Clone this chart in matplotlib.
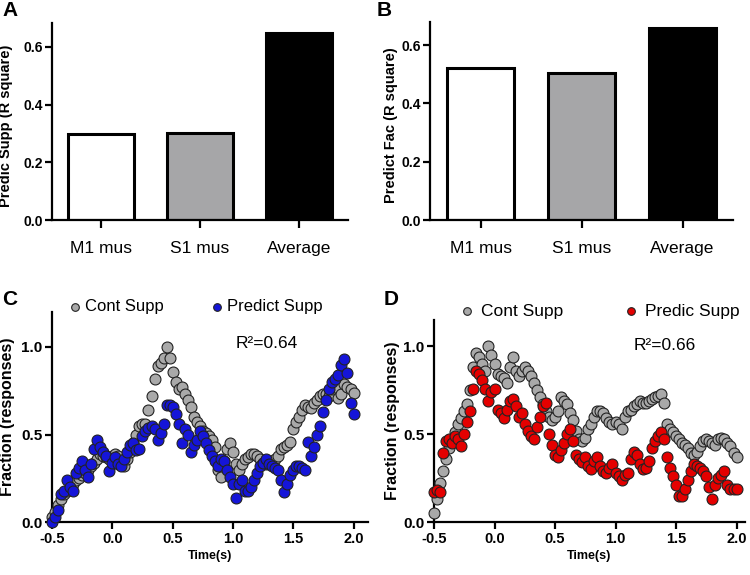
import numpy as np
import matplotlib
matplotlib.use("Agg")
import matplotlib.pyplot as plt

plt.rcParams['font.family'] = ['Liberation Sans', 'DejaVu Sans']

# ---- data ----
categories = ["M1 mus", "S1 mus", "Average"]
supp_r2 = [0.297, 0.302, 0.648]
fac_r2 = [0.521, 0.503, 0.657]
bar_colors = ["white", "#a6a6a8", "black"]

# time samples (s), every 25 ms from -0.5 to 2.0
time_s = np.round(np.arange(101) * 0.025 - 0.5, 3)

cont_supp_c = [
    0.03, 0.06, 0.10, 0.13, 0.16, 0.18, 0.20, 0.22, 0.24, 0.25,
    0.27, 0.28, 0.30, 0.32, 0.34, 0.36, 0.39, 0.38, 0.37, 0.36,
    0.38, 0.39, 0.38, 0.34, 0.32, 0.36, 0.40, 0.45, 0.50, 0.55,
    0.56, 0.56, 0.64, 0.72, 0.82, 0.89, 0.91, 0.94, 1.00, 0.94,
    0.86, 0.80, 0.76, 0.77, 0.73, 0.70, 0.66, 0.60, 0.57, 0.55,
    0.52, 0.51, 0.49, 0.47, 0.43, 0.30, 0.26, 0.35, 0.42, 0.45,
    0.40, 0.33, 0.30, 0.33, 0.36, 0.37, 0.39, 0.39, 0.38, 0.36,
    0.34, 0.33, 0.34, 0.35, 0.36, 0.38, 0.42, 0.43, 0.44, 0.46,
    0.53, 0.57, 0.60, 0.64, 0.67, 0.66, 0.65, 0.68, 0.70, 0.72,
    0.73, 0.73, 0.72, 0.76, 0.77, 0.71, 0.73, 0.79, 0.77, 0.76,
    0.74,
]
pred_supp_c = [
    0.00, 0.03, 0.07, 0.16, 0.18, 0.24, 0.20, 0.18, 0.28, 0.31,
    0.35, 0.30, 0.26, 0.33, 0.42, 0.47, 0.43, 0.40, 0.38, 0.29,
    0.34, 0.37, 0.33, 0.32, 0.36, 0.40, 0.44, 0.45, 0.41, 0.42,
    0.49, 0.52, 0.54, 0.55, 0.53, 0.47, 0.51, 0.56, 0.67, 0.67,
    0.66, 0.62, 0.56, 0.45, 0.53, 0.50, 0.40, 0.44, 0.47, 0.52,
    0.49, 0.45, 0.41, 0.38, 0.35, 0.32, 0.36, 0.35, 0.30, 0.26,
    0.22, 0.14, 0.22, 0.24, 0.18, 0.18, 0.20, 0.24, 0.28, 0.32,
    0.34, 0.36, 0.33, 0.32, 0.31, 0.30, 0.24, 0.17, 0.22, 0.27,
    0.30, 0.32, 0.32, 0.31, 0.30, 0.46, 0.38, 0.43, 0.50, 0.55,
    0.63, 0.70, 0.76, 0.80, 0.82, 0.84, 0.90, 0.93, 0.85, 0.68,
    0.62,
]
cont_supp_d = [
    0.05, 0.13, 0.22, 0.29, 0.36, 0.42, 0.46, 0.51, 0.56, 0.59,
    0.63, 0.67, 0.75, 0.88, 0.96, 0.94, 0.90, 0.86, 1.00, 0.95,
    0.90, 0.84, 0.83, 0.82, 0.79, 0.88, 0.94, 0.86, 0.83, 0.86,
    0.88, 0.86, 0.83, 0.79, 0.75, 0.71, 0.67, 0.63, 0.60, 0.58,
    0.60, 0.63, 0.71, 0.69, 0.67, 0.62, 0.58, 0.52, 0.47, 0.46,
    0.48, 0.53, 0.56, 0.60, 0.63, 0.63, 0.62, 0.59, 0.57, 0.56,
    0.57, 0.56, 0.53, 0.60, 0.63, 0.64, 0.66, 0.67, 0.69, 0.68,
    0.68, 0.69, 0.70, 0.71, 0.72, 0.73, 0.68, 0.56, 0.53, 0.51,
    0.49, 0.47, 0.45, 0.44, 0.42, 0.39, 0.38, 0.40, 0.43, 0.46,
    0.47, 0.46, 0.45, 0.44, 0.47, 0.48, 0.47, 0.45, 0.43, 0.39,
    0.37,
]
pred_supp_d = [
    0.17, 0.18, 0.17, 0.39, 0.46, 0.47, 0.45, 0.49, 0.47, 0.43,
    0.50, 0.57, 0.63, 0.76, 0.86, 0.84, 0.81, 0.76, 0.69, 0.74,
    0.76, 0.64, 0.62, 0.59, 0.64, 0.69, 0.70, 0.66, 0.60, 0.62,
    0.56, 0.52, 0.49, 0.47, 0.54, 0.60, 0.66, 0.68, 0.50, 0.44,
    0.38, 0.37, 0.41, 0.45, 0.50, 0.53, 0.46, 0.38, 0.36, 0.34,
    0.37, 0.32, 0.30, 0.35, 0.37, 0.32, 0.29, 0.28, 0.31, 0.33,
    0.28, 0.26, 0.24, 0.27, 0.28, 0.36, 0.40, 0.38, 0.33, 0.30,
    0.31, 0.35, 0.42, 0.46, 0.49, 0.51, 0.47, 0.37, 0.31, 0.26,
    0.21, 0.15, 0.15, 0.19, 0.24, 0.29, 0.33, 0.32, 0.31, 0.29,
    0.26, 0.20, 0.13, 0.21, 0.25, 0.27, 0.29, 0.21, 0.19, 0.19,
    0.19,
]

W, H = 750, 575
fig = plt.figure(figsize=(7.5, 5.75), dpi=100)


def px(l, r, t, b):
    return [l / W, 1 - b / H, (r - l) / W, (b - t) / H]


axA = fig.add_axes(px(52, 348, 23, 220))
axB = fig.add_axes(px(430, 733, 22, 220))
axC = fig.add_axes(px(52, 368, 312, 522))
axD = fig.add_axes(px(434, 745, 320, 522))

for ax in (axA, axB, axC, axD):
    ax.spines['top'].set_visible(False)
    ax.spines['right'].set_visible(False)
    ax.spines['left'].set_linewidth(1.6)
    ax.spines['bottom'].set_linewidth(1.6)

# bar panels
for ax, vals, ylab, ylim, lx in ((axA, supp_r2, "Predic Supp (R square)", 0.683, -0.132),
                                 (axB, fac_r2, "Predict Fac (R square)", 0.679, -0.106)):
    ax.bar(range(3), vals, width=0.67, color=bar_colors, edgecolor="black", linewidth=2.2)
    ax.set_xlim(-0.5, 2.5)
    ax.set_ylim(0, ylim)
    ax.set_yticks([0.0, 0.2, 0.4, 0.6])
    ax.set_yticklabels(["0.0", "0.2", "0.4", "0.6"], fontweight="bold", fontsize=10)
    ax.set_xticks(range(3))
    ax.set_xticklabels(categories, fontsize=12.5)
    ax.tick_params(axis="x", length=6, width=1.6, pad=9)
    ax.tick_params(axis="y", length=5, width=1.6, pad=1.5)
    ax.set_ylabel(ylab, fontweight="bold", fontsize=10.5)
    ax.yaxis.set_label_coords(lx, 0.48)

# scatter panels
grey = "#a9a9a9"
for ax, pred, pcol, plab, ylim, lx in (
        (axC, pred_supp_c, "#1515d8", "Predict Supp", 1.2, -0.117),
        (axD, pred_supp_d, "#e40000", "Predic Supp", 1.15, -0.109)):
    cont = cont_supp_c if ax is axC else cont_supp_d
    ax.scatter(time_s, cont, s=62, c=grey, edgecolors="#222222", linewidths=0.8,
               clip_on=False, zorder=3, label="Cont Supp")
    ax.scatter(time_s, pred, s=62, c=pcol, edgecolors="#222222", linewidths=0.8,
               clip_on=False, zorder=4, label=plab)
    ax.set_ylim(0, ylim)
    ax.set_yticks([0.0, 0.5, 1.0])
    ax.set_yticklabels(["0.0", "0.5", "1.0"], fontweight="bold", fontsize=11)
    ax.set_xticks([-0.5, 0.0, 0.5, 1.0, 1.5, 2.0])
    ax.set_xticklabels(["-0.5", "0.0", "0.5", "1.0", "1.5", "2.0"], fontweight="bold", fontsize=10.5)
    ax.tick_params(axis="both", length=5, width=1.6, pad=2)
    ax.set_xlabel("Time(s)", fontweight="bold", fontsize=9, labelpad=3)
    ax.set_ylabel("Fraction (responses)", fontweight="bold", fontsize=11.5)
    ax.yaxis.set_label_coords(lx, 0.5)

axC.set_xlim(-0.5, 2.12)
axD.set_xlim(-0.5, 2.07)

axC.legend(loc="center left", bbox_to_anchor=(70 / W, 1 - 307 / H), bbox_transform=fig.transFigure,
           ncol=2, frameon=False, fontsize=12, handlelength=0.6, handletextpad=0.3,
           columnspacing=2.9, markerscale=0.7, borderpad=0, borderaxespad=0, scatterpoints=1)
axD.legend(loc="center left", bbox_to_anchor=(462 / W, 1 - 311 / H), bbox_transform=fig.transFigure,
           ncol=2, frameon=False, fontsize=12.5, handlelength=0.6, handletextpad=0.5,
           columnspacing=3.6, markerscale=0.7, borderpad=0, borderaxespad=0, scatterpoints=1)

fig.text(267 / W, 1 - 343 / H, "R²=0.64", ha="center", va="center", fontsize=12.5)
fig.text(665 / W, 1 - 345 / H, "R²=0.66", ha="center", va="center", fontsize=12.5)

for lab, x, y in (("A", 2, 1), ("B", 377, 1), ("C", 2, 290), ("D", 384, 290)):
    fig.text(x / W, 1 - y / H, lab, ha="left", va="top", fontsize=15, fontweight="bold")

fig.savefig("out.png", dpi=100)
